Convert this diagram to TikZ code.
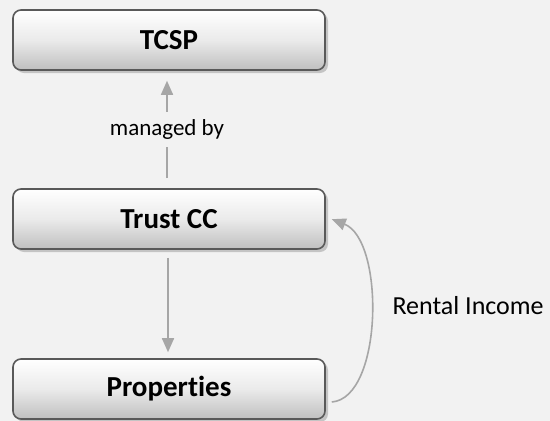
\documentclass[tikz,border=0pt]{standalone}
\usepackage{fontspec}
\setmainfont{Carlito}[Ligatures=NoCommon]
\usetikzlibrary{arrows.meta,shadows}
\definecolor{bgc}{HTML}{F2F2F2}
\definecolor{edgec}{HTML}{595959}
\definecolor{arrc}{HTML}{A6A6A6}
\begin{document}
\begin{tikzpicture}[x=1pt,y=-1pt,
  boxnode/.style={draw=edgec, line width=1.6pt, rounded corners=8pt,
    minimum width=312pt, minimum height=60pt,
    top color=white, bottom color=black!25, middle color=black!8,
    drop shadow={shadow xshift=3pt, shadow yshift=-3pt, fill=black!35, opacity=0.6},
    font=\bfseries\fontsize{29}{34}\selectfont},
  conn/.style={draw=arrc, line width=1.6pt, -{Triangle[length=14pt,width=12pt]}},
  lbl/.style={font=\fontsize{23}{28}\selectfont, text=black}]
\fill[bgc] (0,0) rectangle (550,421);
\useasboundingbox (0,0) rectangle (550,421);
\node[boxnode] (tcsp) at (169,40) {TCSP};
\node[boxnode] (trust) at (169,219) {Trust CC};
\node[boxnode] (prop) at (169,389) {Properties};
\draw[conn, shorten <=10pt, shorten >=10pt] ([xshift=-2pt]trust.north) -- node[lbl, fill=bgc, inner ysep=8pt, inner xsep=2pt] (mb) {managed by} ([xshift=-2pt]tcsp.south);
\draw[conn, shorten <=8pt, shorten >=6pt] ([xshift=-1pt]trust.south) -- ([xshift=-1pt]prop.north);
\coordinate (cs) at ([xshift=6pt,yshift=-13pt]prop.east);
\coordinate (ce) at ([xshift=6pt,yshift=-31pt]trust.north east);
\draw[conn] (cs) .. controls (383,398) and (385,240) .. (ce);
\node[lbl, font=\fontsize{26}{30}\selectfont, anchor=west] (ri) at (389,306) {Rental Income};
\end{tikzpicture}
\end{document}
